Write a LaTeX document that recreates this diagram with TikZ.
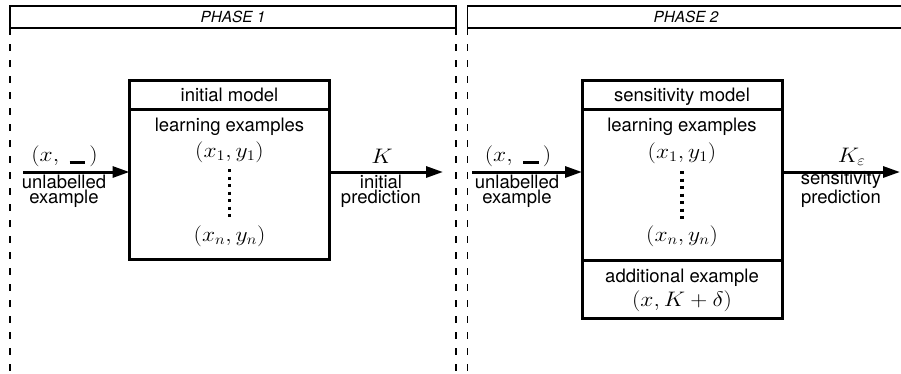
\RequirePackage{fix-cm}
\documentclass[tikz,border=0pt]{standalone}
\usepackage[no-math]{fontspec}
\setmainfont{TeX Gyre Heros}
\usetikzlibrary{arrows.meta}
\newcommand{\MathSc}[1]{\scalebox{1.12}[1]{$#1$}}
\newcommand{\BlankBar}{\rule[-3.2pt]{14pt}{2.8pt}}
\begin{document}
\begin{tikzpicture}[x=1pt,y=-1pt,
 lbl/.style={font=\fontsize{18.5}{13.5}\selectfont,inner sep=0pt,anchor=base,align=center},
 mth/.style={font=\fontsize{21}{23}\selectfont,inner sep=0pt,anchor=base},
 model/.style={draw,line width=3pt,minimum width=200pt,inner sep=0pt,outer sep=0pt},
 head/.style={model,minimum height=29pt,font=\fontsize{18.5}{20}\selectfont,text height=13.3pt,text depth=0pt},
 phasehead/.style={draw,line width=1.1pt,minimum height=22pt,inner sep=0pt,outer sep=0pt,font=\fontsize{15.3}{17}\selectfont\itshape},
 region/.style={line width=1.3pt,dash pattern=on 7pt off 9pt},
 arr/.style={line width=3pt,-{Triangle[length=17pt,width=11pt]}},
 dotcol/.style={line width=3.2pt,dash pattern=on 3.2pt off 4.3pt}]
\useasboundingbox (0,0) rectangle (901,373);
\clip (0,0) rectangle (901,373);
\coordinate (bot) at (0,380);

% phase frames
\node[phasehead,minimum width=446pt] (ph1) at (233,17) {PHASE 1};
\node[phasehead,minimum width=440pt] (ph2) at (687.5,17) {\hspace*{-3pt}PHASE 2};
\draw[region] (ph1.south west) -- (ph1.south west |- bot);
\draw[region] (ph1.south east) -- (ph1.south east |- bot);
\draw[region] (ph1.south west) -- (ph1.south east);
\draw[region] (ph2.south west) -- (ph2.south west |- bot);
\draw[region] (ph2.south east) -- (ph2.south east |- bot);
\draw[region] (ph2.south west) -- (ph2.south east);

% phase 1 model
\node[head] (h1) at (229.5,94.5) {initial model};
\node[model,minimum height=150pt] (b1) at (229.5,184) {};
\node[lbl] (le1) at (229.5,131) {learning examples};
\node[mth] (xa1) at (229.5,157.5) {\MathSc{(x_1,y_1)}};
\node[mth] (xb1) at (229.5,241) {\MathSc{(x_n,y_n)}};
\coordinate (dt1) at (229.5,169);
\coordinate (db1) at (229.5,220);
\draw[dotcol] (dt1) -- (db1);

% phase 2 model
\node[head] (h2) at (682,94.5) {sensitivity model};
\node[model,minimum height=151pt] (b2) at (682,184.5) {};
\node[model,minimum height=58pt] (a2) at (682,289) {};
\node[lbl] (le2) at (682,131) {learning examples};
\node[mth] (xa2) at (682,158) {\MathSc{(x_1,y_1)}};
\node[mth] (xb2) at (682,241.5) {\MathSc{(x_n,y_n)}};
\coordinate (dt2) at (682,171);
\coordinate (db2) at (682,221);
\draw[dotcol] (dt2) -- (db2);
\node[lbl] (ae2) at (682,282) {additional example};
\node[mth] (xk2) at (682,306.5) {\MathSc{(x,K+\delta)}};

% arrows phase 1
\coordinate (s1) at (23,172);
\coordinate (e1) at (443,172);
\draw[arr] (s1) -- (s1 -| b1.west);
\draw[arr] (b1.east |- e1) -- (e1);
\node[mth] (u1) at (64.5,161) {\MathSc{(x,\;\BlankBar\,)}};
\node[lbl] (ul1) at (64,203.5) {unlabelled\\example};
\node[mth] (k1) at (382,163) {\MathSc{K}};
\node[lbl] (ip1) at (381,203.5) {initial\\prediction};

% arrows phase 2
\coordinate (s2) at (472,172);
\coordinate (e2) at (900,172);
\draw[arr] (s2) -- (s2 -| b2.west);
\draw[arr] (b2.east |- e2) -- (e2);
\node[mth] (u2) at (518,161) {\MathSc{(x,\;\BlankBar\,)}};
\node[lbl] (ul2) at (517,203.5) {unlabelled\\example};
\node[mth] (k2) at (851.7,162) {\MathSc{K_\varepsilon}};
\node[lbl] (sp2) at (841,203.5) {sensitivity\\prediction};
\end{tikzpicture}
\end{document}
